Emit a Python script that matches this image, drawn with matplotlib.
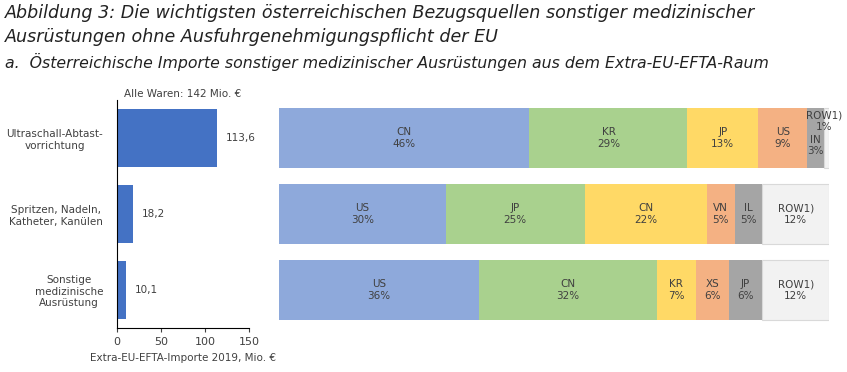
import matplotlib.pyplot as plt

# left panel: total imports per product group (Mio. EUR)
products = ['Ultraschall-Abtast-\nvorrichtung', 'Spritzen, Nadeln,\nKatheter, Kanülen',
            'Sonstige\nmedizinische\nAusrüstung']
imports = [113.6, 18.2, 10.1]
value_labels = ['113,6', '18,2', '10,1']
x_ticks = [0, 50, 100, 150]

# right panel: country shares per product group (%)
countries = [
    ['CN', 'KR', 'JP', 'US', 'IN', 'ROW1)'],
    ['US', 'JP', 'CN', 'VN', 'IL', 'ROW1)'],
    ['US', 'CN', 'KR', 'XS', 'JP', 'ROW1)'],
]
shares = [
    [46, 29, 13, 9, 3, 1],
    [30, 25, 22, 5, 5, 12],
    [36, 32, 7, 6, 6, 12],
]

colors = ['#8EA9DB', '#A9D18E', '#FFD966', '#F4B183', '#A5A5A5', '#F2F2F2']
txt = '#404040'

W, H = 847, 372
fig = plt.figure(figsize=(W / 100, H / 100), dpi=100)
plt.rcParams['font.family'] = 'DejaVu Sans'


def box(x0, y0, x1, y1):
    return [x0 / W, 1 - y1 / H, (x1 - x0) / W, (y1 - y0) / H]


fig.text(5 / W, 1 - 13 / H, 'Abbildung 3: Die wichtigsten österreichischen Bezugsquellen sonstiger medizinischer',
         fontsize=12.6, style='italic', color='#222222', va='center')
fig.text(5 / W, 1 - 37 / H, 'Ausrüstungen ohne Ausfuhrgenehmigungspflicht der EU',
         fontsize=12.6, style='italic', color='#222222', va='center')
fig.text(5 / W, 1 - 62 / H, 'a.  Österreichische Importe sonstiger medizinischer Ausrüstungen aus dem Extra-EU-EFTA-Raum',
         fontsize=11.3, style='italic', color='#222222', va='center')

# left bars
ax = fig.add_axes(box(117, 100, 249, 328))
ypos = list(range(len(products)))
ax.barh(ypos, imports, height=0.77, color='#4472C4')
for y, v, lab in zip(ypos, imports, value_labels):
    ax.text(v + 10, y, lab, va='center', ha='left', fontsize=7.5, color=txt)
ax.set_xlim(0, 150)
ax.set_ylim(2.5, -0.5)
ax.set_yticks(ypos)
ax.set_yticklabels(products, fontsize=7.5, color=txt, multialignment='center')
ax.tick_params(axis='y', length=0, pad=10)
ax.set_xticks(x_ticks)
ax.tick_params(axis='x', labelsize=8, colors=txt, length=3)
ax.spines['top'].set_visible(False)
ax.spines['right'].set_visible(False)
ax.set_xlabel('Extra-EU-EFTA-Importe 2019, Mio. €', fontsize=7.5, color=txt, labelpad=4)
ax.set_title('Alle Waren: 142 Mio. €', fontsize=7.5, color=txt, pad=2)

# right stacked bars
ax2 = fig.add_axes(box(279, 100, 829, 328))
for row, (cs, sh) in enumerate(zip(countries, shares)):
    total = sum(sh)
    left = 0
    for i, (c, s) in enumerate(zip(cs, sh)):
        w = s / total * 100
        ec = '#D9D9D9' if i == 5 else 'none'
        ax2.barh(row, w, left=left, height=0.79, color=colors[i], edgecolor=ec, linewidth=0.8)
        cx = left + w / 2
        if row == 0 and i == 4:
            ax2.text(cx, row + 0.1, c + '\n' + str(s) + '%', ha='center', va='center',
                     fontsize=7.5, color=txt, linespacing=1.2)
        elif row == 0 and i == 5:
            ax2.text(cx - 0.4, row - 0.22, c + '\n' + str(s) + '%', ha='center', va='center',
                     fontsize=7.5, color=txt, linespacing=1.2)
        else:
            ax2.text(cx, row, c + '\n' + str(s) + '%', ha='center', va='center',
                     fontsize=7.5, color=txt, linespacing=1.2)
        left += w
ax2.set_xlim(0, 100)
ax2.set_ylim(2.5, -0.5)
ax2.axis('off')

plt.savefig('out.png', dpi=100)
